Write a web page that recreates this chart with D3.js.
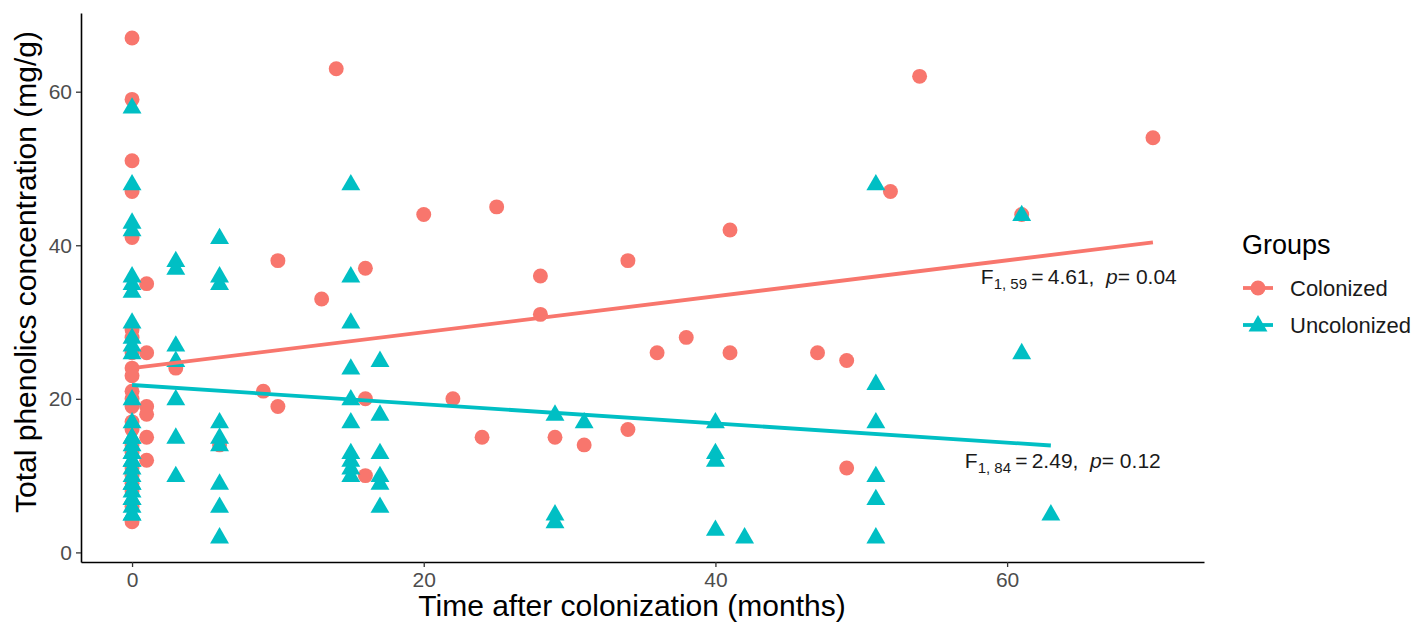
<!DOCTYPE html>
<meta charset="utf-8">
<style>
  body { margin: 0; background: #fff; }
  text { font-family: Arial, "Liberation Sans", sans-serif; }
</style>
<svg width="1415" height="625"></svg>
<script src="https://cdn.jsdelivr.net/npm/d3@7"></script>
<script>
// points: [months, mg/g]
var colonized = [
  [0,67],[0,59],[0,51],[0,47],[0,41],[0,29],[0,28],[0,26],[0,24],[0,23],[0,21],
  [0,20],[0,19],[0,17],[0,16],[0,14],[0,13],[0,11],[0,10],[0,9],[0,8],[0,6],[0,4],
  [1,35],[1,26],[1,19],[1,18],[1,15],[1,12],[3,24],[6,14],
  [9,21],[10,38],[10,19],[13,33],[14,63],[16,37],[16,20],[16,10],
  [20,44],[22,20],[24,15],[25,45],[28,36],[28,31],[29,15],[31,14],[34,38],[34,16],
  [36,26],[38,28],[41,42],[41,26],[47,26],[49,25],[49,11],[52,47],[54,62],[61,44],[70,54]
];
var uncolonized = [
  [0,58],[0,48],[0,43],[0,42],[0,36],[0,35],[0,34],[0,30],[0,28],[0,27],[0,26],
  [0,20],[0,17],[0,15],[0,15],[0,14],[0,13],[0,13],
  [0,12],[0,12],[0,11],[0,10],[0,9],[0,9],[0,8],[0,7],[0,7],[0,6],[0,5],[0,5],
  [3,38],[3,37],[3,27],[3,25],[3,20],[3,15],[3,10],
  [6,41],[6,36],[6,35],[6,17],[6,15],[6,14],[6,9],[6,6],[6,2],
  [15,48],[15,36],[15,30],[15,24],[15,20],[15,17],[15,13],[15,12],[15,11],[15,10],
  [17,25],[17,18],[17,13],[17,10],[17,9],[17,6],
  [29,18],[29,5],[29,4],[31,17],
  [40,17],[40,13],[40,12],[40,3],[42,2],
  [51,48],[51,22],[51,17],[51,10],[51,7],[51,2],
  [61,44],[61,26],[63,5]
];
// fitted lines: [intercept, slope, last month]
var colonizedFit = [24.0, 0.234, 70];
var uncolonizedFit = [21.8, -0.125, 63];

var groups = ["Colonized", "Uncolonized"];
var colors = ["#F8766D", "#00BFC4"];
var xTicks = [0, 20, 40, 60];
var yTicks = [0, 20, 40, 60];

var svg = d3.select("svg");
var pLeft = 81, pRight = 1204, pTop = 13, pBottom = 562;

var x = d3.scaleLinear().domain([-3.5, 73.5]).range([pLeft, pRight]);
var y = d3.scaleLinear().domain([-1.25, 70.25]).range([pBottom, pTop]);

var circleSym = d3.symbol().type(d3.symbolCircle).size(175);
var triSym = d3.symbol().type(d3.symbolTriangle).size(155);

// points
svg.append("g").selectAll("path")
  .data(colonized)
  .enter().append("path")
  .attr("d", circleSym)
  .attr("transform", function(d) { return "translate(" + x(d[0]) + "," + y(d[1]) + ")"; })
  .attr("fill", colors[0]);

svg.append("g").selectAll("path")
  .data(uncolonized)
  .enter().append("path")
  .attr("d", triSym)
  .attr("transform", function(d) { return "translate(" + x(d[0]) + "," + (y(d[1]) + 1) + ")"; })
  .attr("fill", colors[1]);

// regression lines
[colonizedFit, uncolonizedFit].forEach(function(f, i) {
  svg.append("line")
    .attr("x1", x(0)).attr("y1", y(f[0]))
    .attr("x2", x(f[2])).attr("y2", y(f[0] + f[1] * f[2]))
    .attr("stroke", colors[i])
    .attr("stroke-width", 3.8);
});

// axes
var xAxis = svg.append("g")
  .attr("transform", "translate(0," + pBottom + ")")
  .call(d3.axisBottom(x).tickValues(xTicks).tickSize(5).tickSizeOuter(0).tickPadding(5));
var yAxis = svg.append("g")
  .attr("transform", "translate(" + pLeft + ",0)")
  .call(d3.axisLeft(y).tickValues(yTicks).tickSize(5).tickSizeOuter(0).tickPadding(4));

[xAxis, yAxis].forEach(function(a) {
  a.select(".domain").attr("stroke", "#000").attr("stroke-width", 1.6);
  a.selectAll(".tick line").attr("stroke", "#333").attr("stroke-width", 1.3);
  a.selectAll(".tick text").attr("fill", "#4d4d4d").style("font-size", "21px")
    .style("font-family", "Arial, 'Liberation Sans', sans-serif");
});

// axis titles
svg.append("text")
  .attr("x", 632).attr("y", 616)
  .attr("text-anchor", "middle")
  .style("font-size", "30px")
  .text("Time after colonization (months)");

svg.append("text")
  .attr("transform", "translate(36,272) rotate(-90)")
  .attr("text-anchor", "middle")
  .style("font-size", "30px")
  .text("Total phenolics concentration (mg/g)");

// annotations
function stat(xv, yv, df, fval, pval) {
  var t = svg.append("text")
    .attr("x", x(xv)).attr("y", y(yv))
    .style("font-size", "21px").attr("fill", "#1a1a1a");
  t.append("tspan").text("F");
  t.append("tspan").attr("dy", 5).style("font-size", "15px").text(df);
  t.append("tspan").attr("dy", -5).text("\u2009=\u2009" + fval + ",\u00a0\u00a0");
  t.append("tspan").style("font-style", "italic").text("p");
  t.append("tspan").text("= " + pval);
}
stat(58.2, 34.9, "1, 59", "4.61", "0.04");
stat(57.1, 11.0, "1, 84", "2.49", "0.12");

// legend
var lg = svg.append("g").attr("transform", "translate(1240,0)");
lg.append("text").attr("x", 2).attr("y", 254)
  .style("font-size", "27px").text("Groups");
groups.forEach(function(g, i) {
  var cy = 288 + i * 37;
  lg.append("line").attr("x1", 3).attr("x2", 33).attr("y1", cy).attr("y2", cy)
    .attr("stroke", colors[i]).attr("stroke-width", 3.8);
  lg.append("path")
    .attr("d", i === 0 ? circleSym : triSym)
    .attr("transform", "translate(18," + (cy + (i === 0 ? 0 : 1)) + ")")
    .attr("fill", colors[i]);
  lg.append("text").attr("x", 50).attr("y", cy + 8)
    .style("font-size", "22px").attr("fill", "#1a1a1a").text(g);
});
</script>
